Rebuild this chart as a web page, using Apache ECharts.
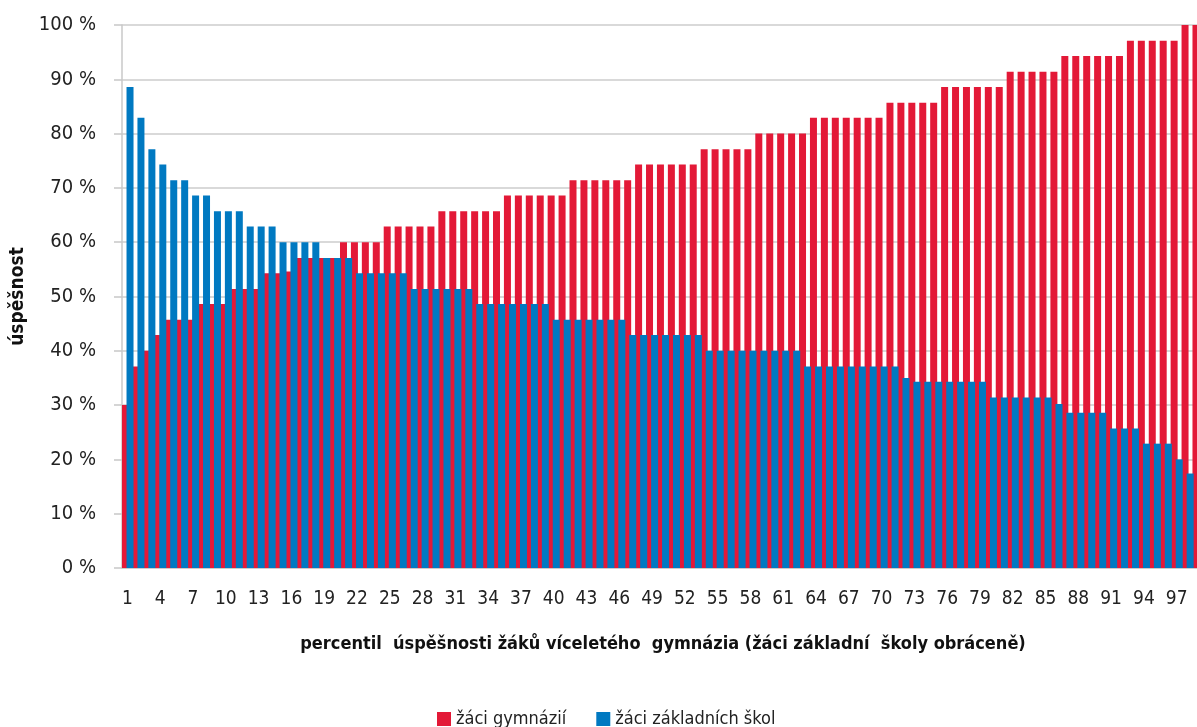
<!DOCTYPE html>
<html>
<head>
<meta charset="utf-8">
<script src="https://cdn.jsdelivr.net/npm/echarts@6/dist/echarts.min.js"></script>
<style>
html, body { margin: 0; padding: 0; background: #fff; }
#echarts-main { width: 1197px; height: 727px; }
</style>
</head>
<body>
<div id="echarts-main"></div>
<script>
// percentil 1..99
var categories = [1,2,3,4,5,6,7,8,9,10,11,12,13,14,15,16,17,18,19,20,
	21,22,23,24,25,26,27,28,29,30,31,32,33,34,35,36,37,38,39,40,
	41,42,43,44,45,46,47,48,49,50,51,52,53,54,55,56,57,58,59,60,
	61,62,63,64,65,66,67,68,69,70,71,72,73,74,75,76,77,78,79,80,
	81,82,83,84,85,86,87,88,89,90,91,92,93,94,95,96,97,98,99];

// žáci gymnázií (%)
var gymData = [30,37.1,40,42.9,45.7,45.7,45.7,48.6,48.6,48.6,
	51.4,51.4,51.4,54.3,54.3,54.6,57.1,57.1,57.1,57.1,
	60,60,60,60,62.9,62.9,62.9,62.9,62.9,65.7,
	65.7,65.7,65.7,65.7,65.7,68.6,68.6,68.6,68.6,68.6,
	68.6,71.4,71.4,71.4,71.4,71.4,71.4,74.3,74.3,74.3,
	74.3,74.3,74.3,77.1,77.1,77.1,77.1,77.1,80,80,
	80,80,80,82.9,82.9,82.9,82.9,82.9,82.9,82.9,
	85.7,85.7,85.7,85.7,85.7,88.6,88.6,88.6,88.6,88.6,
	88.6,91.4,91.4,91.4,91.4,91.4,94.3,94.3,94.3,94.3,
	94.3,94.3,97.1,97.1,97.1,97.1,97.1,100,100];

// žáci základních škol (%), pořadí obráceně
var zsData = [88.6,82.9,77.1,74.3,71.4,71.4,68.6,68.6,65.7,65.7,
	65.7,62.9,62.9,62.9,60,60,60,60,57.1,57.1,
	57.1,54.3,54.3,54.3,54.3,54.3,51.4,51.4,51.4,51.4,
	51.4,51.4,48.6,48.6,48.6,48.6,48.6,48.6,48.6,45.7,
	45.7,45.7,45.7,45.7,45.7,45.7,42.9,42.9,42.9,42.9,
	42.9,42.9,42.9,40,40,40,40,40,40,40,
	40,40,37.1,37.1,37.1,37.1,37.1,37.1,37.1,37.1,
	37.1,35,34.3,34.3,34.3,34.3,34.3,34.3,34.3,31.4,
	31.4,31.4,31.4,31.4,31.4,30.2,28.6,28.6,28.6,28.6,
	25.7,25.7,25.7,22.9,22.9,22.9,20,17.4,14.3];

var yTicks = [0, 10, 20, 30, 40, 50, 60, 70, 80, 90, 100];

var font = "'Liberation Sans Narrow', 'DejaVu Sans Condensed', sans-serif";
var colors = ['#e31937', '#0079c1'];

var myChart = echarts.init(document.getElementById('echarts-main'));

var option = {
	color: colors,
	animation: false,
	textStyle: { fontFamily: font },
	grid: {
		left: 122,
		top: 25,
		width: 1082,
		bottom: 159,
		containLabel: false,
		outerBoundsMode: 'none'
	},
	legend: {
		data: ['žáci gymnázií', 'žáci základních škol'],
		left: 432,
		top: 705,
		itemWidth: 14,
		itemHeight: 14,
		itemGap: 30,
		icon: 'rect',
		textStyle: { fontFamily: font, fontSize: 18, color: '#222' }
	},
	xAxis: {
		type: 'category',
		data: categories,
		name: 'percentil  úspěšnosti žáků víceletého  gymnázia (žáci základní  školy obráceně)',
		nameLocation: 'middle',
		nameGap: 67,
		nameTextStyle: { fontFamily: font, fontSize: 18, fontWeight: 'bold', color: '#111' },
		axisLine: { lineStyle: { color: '#c8c8c8', width: 1.5 } },
		axisTick: { interval: 0, length: 6, lineStyle: { color: '#c8c8c8', width: 1.5 } },
		axisLabel: { interval: 2, margin: 22, fontSize: 19, color: '#222', fontFamily: font }
	},
	yAxis: {
		type: 'value',
		min: 0,
		max: 100,
		interval: 10,
		name: 'úspěšnost',
		nameLocation: 'middle',
		nameGap: 94,
		nameTextStyle: { fontFamily: font, fontSize: 19, fontWeight: 'bold', color: '#111' },
		axisLine: { show: true, lineStyle: { color: '#c8c8c8', width: 1.5 } },
		axisTick: { show: true, length: 8, lineStyle: { color: '#c8c8c8', width: 1.5 } },
		splitLine: { lineStyle: { color: '#d9d9d9', width: 2 } },
		axisLabel: {
			margin: 26,
			fontSize: 20,
			color: '#222',
			fontFamily: font,
			formatter: function (v) {
				return yTicks.indexOf(v) > -1 ? v + ' %' : '';
			}
		}
	},
	series: [
		{
			name: 'žáci gymnázií',
			type: 'bar',
			data: gymData,
			barWidth: 7,
			barGap: '-27%'
		},
		{
			name: 'žáci základních škol',
			type: 'bar',
			data: zsData,
			barWidth: 7,
			barGap: '-27%'
		}
	]
};

myChart.setOption(option);
</script>
</body>
</html>
